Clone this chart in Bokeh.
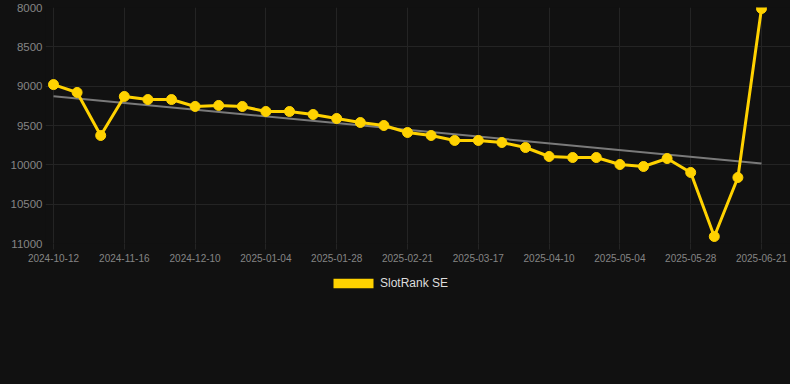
import re
import numpy as np
from bokeh.plotting import figure
from bokeh.layouts import column
from bokeh.models import Range1d, FixedTicker, Legend, LegendItem
from bokeh.embed import file_html
from bokeh.resources import INLINE

# ---- data ----
dates = [
    "2024-10-12", "2024-10-31", "2024-11-08", "2024-11-16", "2024-11-24",
    "2024-12-02", "2024-12-10", "2024-12-18", "2024-12-26", "2025-01-04",
    "2025-01-12", "2025-01-20", "2025-01-28", "2025-02-05", "2025-02-13",
    "2025-02-21", "2025-03-01", "2025-03-09", "2025-03-17", "2025-03-25",
    "2025-04-02", "2025-04-10", "2025-04-18", "2025-04-26", "2025-05-04",
    "2025-05-12", "2025-05-20", "2025-05-28", "2025-06-05", "2025-06-13",
    "2025-06-21",
]
ranks = [
    8980, 9080, 9627, 9131, 9170, 9170, 9258, 9245, 9258, 9322,
    9322, 9360, 9411, 9462, 9500, 9589, 9627, 9690, 9690, 9716,
    9780, 9894, 9907, 9907, 9996, 10021, 9920, 10097, 10911, 10161,
    8013,
]
y_ticks = [8000, 8500, 9000, 9500, 10000, 10500, 11000]
series_name = "SlotRank SE"
label_step = 3

YELLOW = "#ffd200"
BG = "#111111"
GRID = "#242424"
TICK_TXT = "#858585"
FONT = "Liberation Sans"

x = list(range(len(dates)))
x_ticks = x[::label_step]

p = figure(
    width=790, height=270, output_backend="svg", toolbar_location=None,
    x_range=Range1d(-0.339, 31.229), y_range=Range1d(11000, 8000),
    min_border_left=45, min_border_right=0, min_border_top=7, min_border_bottom=27,
    background_fill_color=BG, border_fill_color=None, outline_line_color=None,
    styles={"background-color": BG},
)

# grids
p.xgrid.ticker = FixedTicker(ticks=x_ticks)
p.ygrid.ticker = FixedTicker(ticks=y_ticks)
p.xgrid.grid_line_color = GRID
p.ygrid.grid_line_color = GRID

# x axis
p.xaxis.ticker = FixedTicker(ticks=x_ticks)
p.xaxis.major_label_overrides = {i: dates[i] for i in x_ticks}
p.xaxis.axis_line_color = None
p.xaxis.major_tick_line_color = GRID
p.xaxis.major_tick_out = 6
p.xaxis.major_tick_in = 0
p.xaxis.minor_tick_line_color = None
p.xaxis.major_label_standoff = 4
p.xaxis.major_label_text_font = FONT
p.xaxis.major_label_text_font_size = "10px"
p.xaxis.major_label_text_color = TICK_TXT

# y axis
p.yaxis.ticker = FixedTicker(ticks=y_ticks)
p.yaxis.major_label_overrides = {v: str(v) for v in y_ticks}
p.yaxis.axis_line_color = None
p.yaxis.major_tick_line_color = None
p.yaxis.major_tick_out = 0
p.yaxis.major_tick_in = 0
p.yaxis.minor_tick_line_color = None
p.yaxis.major_label_standoff = 3
p.yaxis.major_label_text_font = FONT
p.yaxis.major_label_text_font_size = "11.5px"
p.yaxis.major_label_text_color = TICK_TXT

# trend line (least squares fit of the series)
coef = np.polyfit(x, ranks, 1)
tx = [x[0], x[-1]]
p.line(tx, list(np.polyval(coef, tx)), line_color="#7a7a7a", line_width=2)

# series
p.line(x, ranks, line_color=YELLOW, line_width=3)
p.scatter(x, ranks, size=10, fill_color=YELLOW, line_color=YELLOW)

# legend strip below the chart
lg = figure(
    width=790, height=114, output_backend="svg", toolbar_location=None,
    x_range=p.x_range, y_range=p.y_range,
    x_axis_location=None, y_axis_location=None,
    min_border=0, min_border_left=0, min_border_right=0, min_border_top=0, min_border_bottom=0,
    background_fill_color=None, border_fill_color=None, outline_line_color=None,
    styles={"background-color": BG},
)
lg.grid.visible = False
swatch = lg.quad(left=x[:1], right=x[:1], top=ranks[:1], bottom=ranks[:1],
                 fill_color=YELLOW, line_color=None, visible=False)
legend = Legend(
    items=[LegendItem(label=series_name, renderers=[swatch])],
    location=(283, 93.75), orientation="horizontal",
    glyph_width=50, glyph_height=12, label_height=12,
    label_standoff=2, padding=0, margin=0, spacing=0,
    label_text_font=FONT, label_text_font_size="12px", label_text_color="#dddddd",
    border_line_color=None, background_fill_alpha=0,
)
lg.add_layout(legend)

layout = column(p, lg, spacing=0, styles={"background-color": BG})
html = file_html(layout, INLINE)
html = re.sub(r"<body[^>]*>", '<body style="background-color:#111111;">', html, count=1)
open("out.html", "w").write(html)
